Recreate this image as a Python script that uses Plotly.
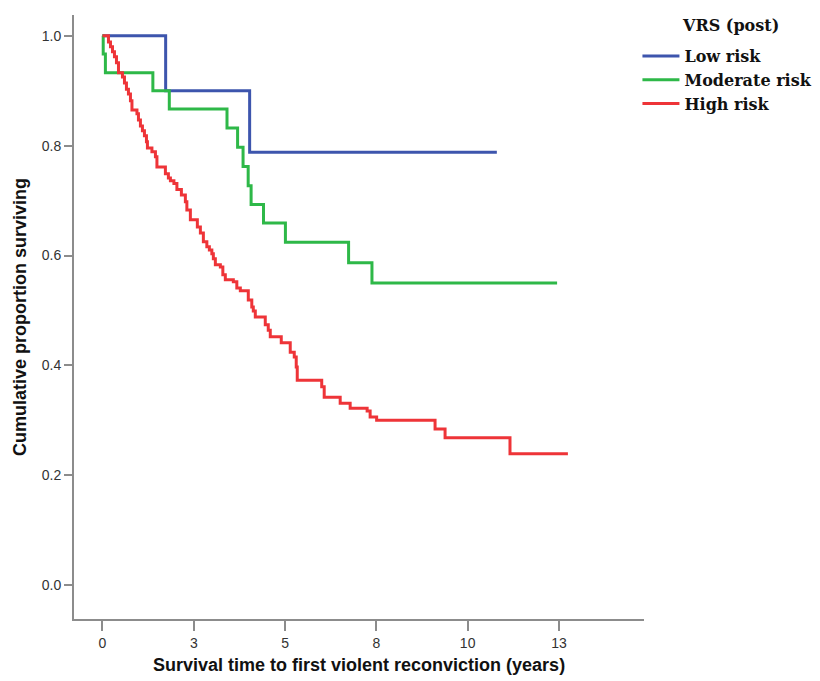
import plotly.graph_objects as go

# ---- data ----
x_tickvals = [0, 2.5, 5, 7.5, 10, 12.5]
x_ticktext = ["0", "3", "5", "8", "10", "13"]
y_tickvals = [0.0, 0.2, 0.4, 0.6, 0.8, 1.0]
y_ticktext = ["0.0", "0.2", "0.4", "0.6", "0.8", "1.0"]

low_t = [0.0, 1.73, 4.03, 10.80]
low_s = [1.0, 0.900, 0.788, 0.788]

mod_t = [0.0, 0.02, 0.08, 1.38, 1.83, 3.41, 3.70, 3.85, 3.99, 4.07, 4.41, 5.01, 6.74, 7.38, 12.45]
mod_s = [1.0, 0.967, 0.933, 0.900, 0.867, 0.832, 0.797, 0.762, 0.727, 0.693, 0.659, 0.624, 0.587, 0.550, 0.550]

high_t = [0.0, 0.164, 0.219, 0.274, 0.328, 0.383, 0.438, 0.547, 0.602, 0.656, 0.711,
          0.766, 0.807, 0.944, 0.985, 1.039, 1.094, 1.149, 1.204, 1.231, 1.354,
          1.450, 1.491, 1.723, 1.805, 1.860, 1.956, 2.038, 2.161, 2.270, 2.311,
          2.407, 2.598, 2.681, 2.763, 2.858, 2.927, 2.995, 3.036, 3.091, 3.228,
          3.296, 3.364, 3.583, 3.679, 3.775, 3.993, 4.089, 4.130, 4.185, 4.458,
          4.540, 4.595, 4.896, 5.142, 5.252, 5.306, 5.334, 6.004, 6.072, 6.510,
          6.783, 7.248, 7.330, 7.508, 9.108, 9.382, 11.160, 12.746]
high_s = [1.0, 0.989, 0.980, 0.971, 0.962, 0.951, 0.933, 0.925, 0.914, 0.903, 0.894,
          0.882, 0.865, 0.858, 0.847, 0.836, 0.827, 0.818, 0.807, 0.796, 0.789,
          0.780, 0.761, 0.749, 0.741, 0.736, 0.731, 0.720, 0.710, 0.698, 0.683,
          0.665, 0.652, 0.641, 0.625, 0.616, 0.610, 0.603, 0.594, 0.583, 0.579,
          0.565, 0.556, 0.552, 0.541, 0.536, 0.519, 0.506, 0.499, 0.488, 0.474,
          0.464, 0.452, 0.441, 0.424, 0.415, 0.397, 0.373, 0.361, 0.342, 0.331,
          0.322, 0.317, 0.306, 0.300, 0.284, 0.268, 0.239, 0.239]

series_names = ["Low risk", "Moderate risk", "High risk"]
legend_title = "VRS (post)"
colors = ["#3D55AD", "#2EB848", "#EE3438"]

fig = go.Figure()
for name, t, s, c in zip(series_names, [low_t, mod_t, high_t], [low_s, mod_s, high_s], colors):
    fig.add_trace(go.Scatter(x=t, y=s, mode="lines", name=name,
                             line=dict(color=c, width=3, shape="hv")))

axis_col = "#8c8c8c"
serif = "DejaVu Serif, Liberation Serif, serif"
fig.update_layout(
    width=820, height=681,
    paper_bgcolor="white", plot_bgcolor="white",
    margin=dict(l=66, r=184, t=7, b=70, autoexpand=False),
    font=dict(family="Liberation Sans, Arial", size=14, color="#333333"),
    xaxis=dict(range=[-0.78, 14.83], tickvals=x_tickvals, ticktext=x_ticktext,
               showgrid=False, zeroline=False, showline=True, linecolor=axis_col, linewidth=2,
               ticks="outside", ticklen=10, tickwidth=2, tickcolor=axis_col,
               tickfont=dict(size=14, color="#333333"), automargin=False),
    yaxis=dict(range=[-0.062, 1.038], tickvals=y_tickvals, ticktext=y_ticktext,
               showgrid=False, zeroline=False, showline=True, linecolor=axis_col, linewidth=2,
               ticks="outside", ticklen=8, tickwidth=2, tickcolor=axis_col,
               tickfont=dict(size=14, color="#333333"), automargin=False),
    showlegend=True,
    legend=dict(x=0.9885, y=0.9603, xanchor="left", yanchor="top", xref="paper", yref="paper",
                itemwidth=37, tracegroupgap=0,
                font=dict(family=serif, size=16, color="#111111", weight="bold"),
                bgcolor="rgba(0,0,0,0)"),
    annotations=[
        dict(text=legend_title, xref="paper", yref="paper",
             x=1.1526, y=0.9818, xanchor="center", yanchor="middle", showarrow=False,
             font=dict(family=serif, size=16, color="#111111", weight="bold")),
        dict(text="Survival time to first violent reconviction (years)", xref="paper", yref="paper",
             x=0.5, y=0, yshift=-46, xanchor="center", yanchor="middle", showarrow=False,
             font=dict(family="Liberation Sans, Arial", size=18, color="#111111", weight="bold")),
        dict(text="Cumulative proportion surviving", xref="paper", yref="paper",
             x=0, y=0.5, xshift=-54, xanchor="center", yanchor="middle", showarrow=False, textangle=-90,
             font=dict(family="Liberation Sans, Arial", size=18, color="#111111", weight="bold")),
    ],
)

fig.write_html("out.html")
